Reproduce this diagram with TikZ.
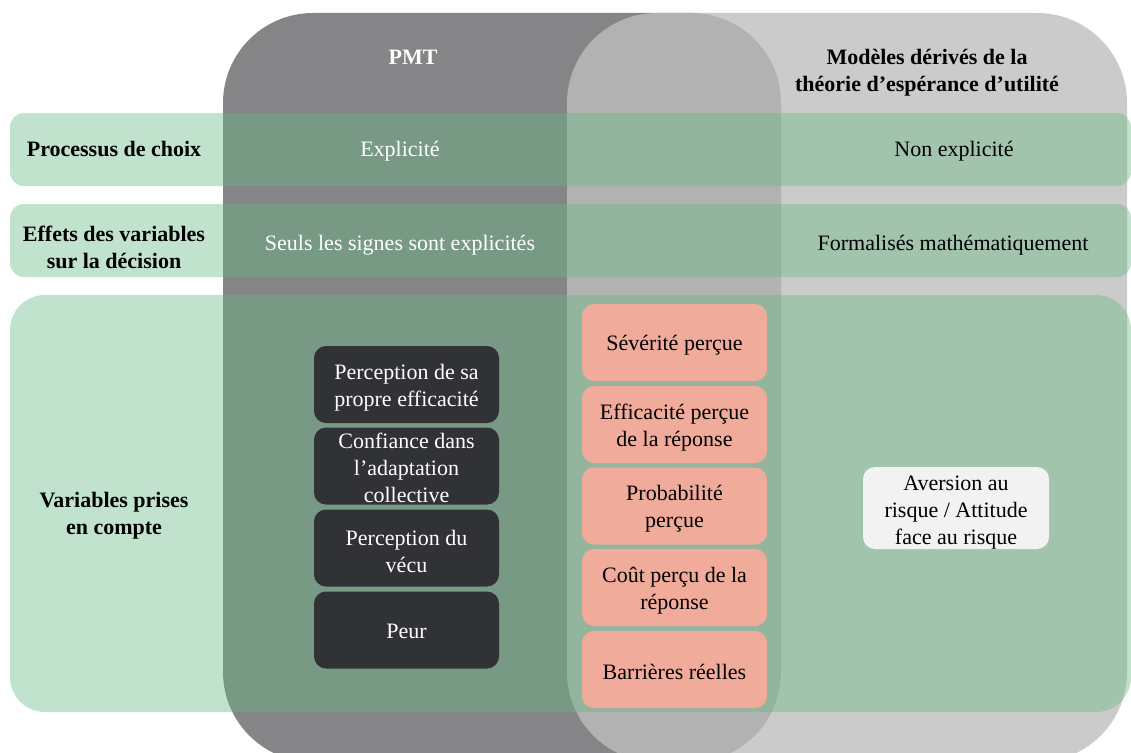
\documentclass[tikz,border=0pt]{standalone}
\usepackage{fontspec}
\setmainfont{Liberation Serif}
\begin{document}
\begin{tikzpicture}[x=1pt,y=-1pt,
  txt/.style={align=center,inner sep=0pt,font=\fontsize{22}{27}\selectfont},
  btxt/.style={txt,font=\fontsize{22}{27}\selectfont\bfseries},
  boxshape/.style={inner sep=0pt,rounded corners=12pt,minimum width=185pt,minimum height=77pt},
  darkbox/.style={boxshape,fill=darkfill},
  salmonbox/.style={boxshape,fill=salmonfill},
  lightbox/.style={boxshape,fill=lightfill,minimum width=186pt,minimum height=82pt},
  band/.style={fill=bandgreen,fill opacity=0.4}
]
\definecolor{pmtgray}{RGB}{133,132,134}
\definecolor{eugray}{RGB}{190,190,190}
\definecolor{bandgreen}{RGB}{102,187,130}
\definecolor{darkfill}{RGB}{49,50,54}
\definecolor{salmonfill}{RGB}{240,171,155}
\definecolor{lightfill}{RGB}{242,242,242}
\useasboundingbox (0,0) rectangle (1131,752);
\clip (0,0) rectangle (1131,752);
\fill[white] (0,0) rectangle (1131,752);
% big column shapes
\fill[pmtgray,rounded corners=90pt] (223,13) rectangle (781,762);
\fill[eugray,fill opacity=0.8,rounded corners=90pt] (567,13) rectangle (1127,762);
% headings
\node[btxt,text=white] (pmt) at (413,57) {PMT};
\node[btxt,text=black] (eu) at (927,73) {Modèles dérivés de la\\théorie d’espérance d’utilité};
% bands
\fill[band,rounded corners=14pt] (10,113) rectangle (1131,186);
\fill[band,rounded corners=14pt] (10,204) rectangle (1131,277);
\fill[band,rounded corners=35pt] (10,295) rectangle (1131,712);
% row labels
\node[btxt] (r1) at (114,149) {Processus de choix};
\node[btxt] (r2) at (114,247) {Effets des variables\\sur la décision};
\node[btxt] (r3) at (114,516) {Variables prises\\en compte};
% row contents
\node[txt,text=white] (c11) at (400,151) {Explicité};
\node[txt,text=black] (c12) at (954,151) {Non explicité};
\node[txt,text=white] (c21) at (400,245) {Seuls les signes sont explicités};
\node[txt,text=black] (c22) at (953,245) {Formalisés mathématiquement};
% PMT variables
\node[darkbox] (d1) at (406.5,384.5) {};
\node[darkbox] (d2) at (406.5,466) {};
\node[darkbox] (d3) at (406.5,548) {};
\node[darkbox] (d4) at (406.5,630) {};
\begin{scope}[every node/.style={txt,text=white}]
\node (d1t) at ([yshift=-3pt]d1.center) {Perception de sa\\propre efficacité};
\node (d2t) at ([yshift=-2pt]d2.center) {Confiance dans\\l’adaptation\\collective};
\node (d3t) at ([yshift=-3pt]d3.center) {Perception du\\vécu};
\node (d4t) at ([yshift=-1pt]d4.center) {Peur};
\end{scope}
% shared variables
\node[salmonbox] (s1) at (674.5,342.5) {};
\node[salmonbox] (s2) at (674.5,424.5) {};
\node[salmonbox] (s3) at (674.5,506) {};
\node[salmonbox] (s4) at (674.5,587.5) {};
\node[salmonbox] (s5) at (674.5,669.5) {};
\begin{scope}[every node/.style={txt,text=black}]
\node (s1t) at ([yshift=-3pt]s1.center) {Sévérité perçue};
\node (s2t) at ([yshift=-3pt]s2.center) {Efficacité perçue\\de la réponse};
\node (s3t) at ([yshift=-3pt]s3.center) {Probabilité\\perçue};
\node (s4t) at ([yshift=-3pt]s4.center) {Coût perçu de la\\réponse};
\node (s5t) at ([yshift=-2pt]s5.center) {Barrières réelles};
\end{scope}
% EU variable
\node[lightbox] (e1) at (956,508) {};
\node[txt,text=black] (e1t) at ([yshift=-5pt]e1.center) {Aversion au\\risque / Attitude\\face au risque};
\end{tikzpicture}
\end{document}
